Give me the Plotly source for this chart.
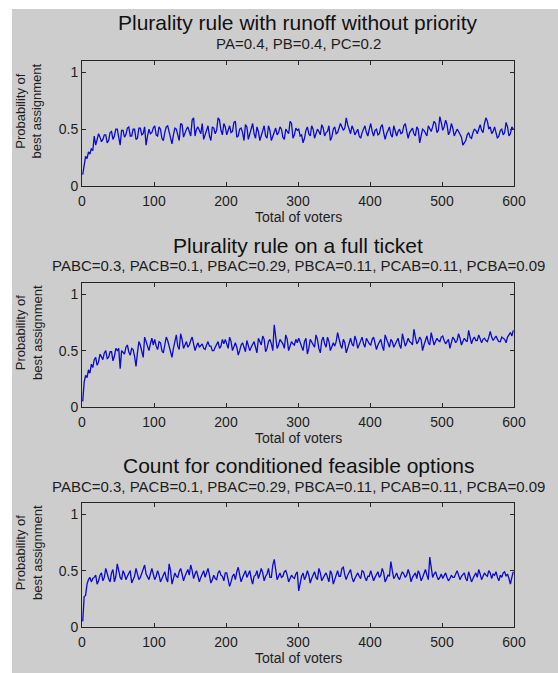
import plotly.graph_objects as go

# probability values sampled every 2 voters (1, 3, 5, ...)
runoff = [
    0.10, 0.20, 0.26, 0.24, 0.30, 0.28, 0.33, 0.31, 0.44, 0.36, 0.40, 0.46, 0.43, 0.39, 0.41, 0.45, 0.45, 0.38, 0.40, 0.47, 0.48, 0.41, 0.44, 0.50, 0.50,
    0.42, 0.36, 0.49, 0.49, 0.43, 0.45, 0.51, 0.52, 0.44, 0.44, 0.50, 0.50, 0.41, 0.42, 0.51, 0.51, 0.45, 0.46, 0.52, 0.36, 0.44, 0.50, 0.46, 0.47, 0.51,
    0.53, 0.45, 0.44, 0.52, 0.50, 0.42, 0.40, 0.47, 0.52, 0.53, 0.47, 0.44, 0.37, 0.45, 0.51, 0.50, 0.45, 0.40, 0.55, 0.54, 0.43, 0.47, 0.50, 0.52, 0.47,
    0.44, 0.58, 0.60, 0.44, 0.50, 0.52, 0.48, 0.46, 0.55, 0.41, 0.45, 0.49, 0.53, 0.44, 0.40, 0.52, 0.51, 0.46, 0.49, 0.60, 0.58, 0.49, 0.45, 0.55, 0.52,
    0.45, 0.50, 0.53, 0.47, 0.48, 0.56, 0.57, 0.43, 0.44, 0.50, 0.51, 0.47, 0.40, 0.54, 0.52, 0.41, 0.45, 0.49, 0.55, 0.46, 0.42, 0.52, 0.48, 0.40, 0.44,
    0.50, 0.53, 0.44, 0.42, 0.53, 0.49, 0.40, 0.44, 0.48, 0.51, 0.45, 0.47, 0.52, 0.50, 0.43, 0.41, 0.50, 0.48, 0.46, 0.57, 0.55, 0.42, 0.45, 0.51, 0.49,
    0.50, 0.44, 0.45, 0.38, 0.42, 0.49, 0.52, 0.46, 0.44, 0.53, 0.50, 0.42, 0.46, 0.50, 0.48, 0.45, 0.54, 0.51, 0.44, 0.47, 0.48, 0.53, 0.40, 0.43, 0.50,
    0.52, 0.46, 0.47, 0.51, 0.55, 0.52, 0.49, 0.51, 0.60, 0.54, 0.50, 0.46, 0.53, 0.50, 0.45, 0.48, 0.50, 0.44, 0.42, 0.47, 0.51, 0.53, 0.47, 0.44, 0.50,
    0.55, 0.48, 0.44, 0.49, 0.50, 0.45, 0.46, 0.52, 0.54, 0.47, 0.41, 0.46, 0.49, 0.52, 0.45, 0.43, 0.53, 0.49, 0.44, 0.48, 0.50, 0.46, 0.47, 0.53, 0.55,
    0.48, 0.42, 0.47, 0.49, 0.51, 0.46, 0.44, 0.52, 0.50, 0.38, 0.43, 0.50, 0.49, 0.46, 0.44, 0.53, 0.51, 0.48, 0.52, 0.57, 0.55, 0.47, 0.49, 0.61, 0.56,
    0.49, 0.52, 0.58, 0.54, 0.45, 0.48, 0.55, 0.51, 0.44, 0.47, 0.50, 0.48, 0.46, 0.43, 0.36, 0.38, 0.40, 0.45, 0.47, 0.43, 0.42, 0.47, 0.50, 0.49, 0.46,
    0.50, 0.54, 0.49, 0.47, 0.55, 0.60, 0.57, 0.50, 0.52, 0.46, 0.48, 0.52, 0.47, 0.42, 0.44, 0.49, 0.50, 0.45, 0.47, 0.56, 0.52, 0.44, 0.46, 0.52, 0.50,
]

full_ticket = [
    0.05, 0.22, 0.28, 0.26, 0.33, 0.30, 0.38, 0.35, 0.42, 0.44, 0.37, 0.40, 0.47, 0.45, 0.42, 0.48, 0.50, 0.43, 0.44, 0.49, 0.49, 0.41, 0.45, 0.52, 0.50,
    0.52, 0.34, 0.50, 0.48, 0.47, 0.53, 0.55, 0.49, 0.46, 0.52, 0.51, 0.45, 0.36, 0.48, 0.58, 0.55, 0.49, 0.44, 0.62, 0.58, 0.52, 0.50, 0.56, 0.61, 0.55,
    0.60, 0.54, 0.51, 0.58, 0.57, 0.50, 0.48, 0.55, 0.62, 0.59, 0.53, 0.50, 0.44, 0.52, 0.58, 0.64, 0.54, 0.51, 0.65, 0.60, 0.52, 0.56, 0.58, 0.53, 0.55,
    0.59, 0.62, 0.56, 0.50, 0.54, 0.57, 0.53, 0.55, 0.56, 0.52, 0.51, 0.55, 0.58, 0.54, 0.54, 0.50, 0.50, 0.53, 0.56, 0.58, 0.52, 0.54, 0.60, 0.56, 0.60,
    0.55, 0.52, 0.62, 0.58, 0.50, 0.54, 0.57, 0.53, 0.46, 0.50, 0.55, 0.57, 0.52, 0.49, 0.59, 0.55, 0.50, 0.53, 0.56, 0.58, 0.53, 0.48, 0.61, 0.57, 0.55,
    0.63, 0.60, 0.49, 0.52, 0.58, 0.60, 0.56, 0.50, 0.73, 0.62, 0.52, 0.55, 0.60, 0.58, 0.56, 0.52, 0.64, 0.60, 0.50, 0.54, 0.58, 0.56, 0.55, 0.60, 0.57,
    0.61, 0.57, 0.54, 0.50, 0.58, 0.61, 0.47, 0.52, 0.60, 0.58, 0.55, 0.53, 0.64, 0.60, 0.52, 0.48, 0.59, 0.62, 0.56, 0.53, 0.62, 0.58, 0.50, 0.54, 0.57,
    0.54, 0.58, 0.66, 0.60, 0.55, 0.52, 0.60, 0.57, 0.48, 0.52, 0.58, 0.61, 0.56, 0.54, 0.63, 0.59, 0.52, 0.55, 0.59, 0.62, 0.56, 0.53, 0.61, 0.58, 0.56,
    0.55, 0.60, 0.62, 0.57, 0.51, 0.55, 0.57, 0.60, 0.54, 0.50, 0.64, 0.60, 0.56, 0.53, 0.60, 0.58, 0.53, 0.56, 0.58, 0.61, 0.55, 0.52, 0.65, 0.60, 0.54,
    0.57, 0.61, 0.58, 0.57, 0.55, 0.69, 0.62, 0.56, 0.58, 0.62, 0.60, 0.50, 0.55, 0.60, 0.63, 0.57, 0.55, 0.66, 0.61, 0.55, 0.58, 0.61, 0.59, 0.58, 0.62,
    0.63, 0.59, 0.56, 0.58, 0.60, 0.52, 0.56, 0.62, 0.60, 0.57, 0.59, 0.65, 0.61, 0.55, 0.58, 0.61, 0.59, 0.58, 0.68, 0.62, 0.56, 0.60, 0.62, 0.59, 0.59,
    0.64, 0.60, 0.57, 0.60, 0.61, 0.59, 0.58, 0.62, 0.67, 0.62, 0.59, 0.61, 0.63, 0.60, 0.58, 0.58, 0.62, 0.61, 0.60, 0.57, 0.62, 0.64, 0.66, 0.63, 0.68,
]

conditioned = [
    0.05, 0.27, 0.28, 0.38, 0.42, 0.44, 0.40, 0.43, 0.44, 0.46, 0.38, 0.41, 0.46, 0.48, 0.41, 0.44, 0.52, 0.47, 0.43, 0.40, 0.48, 0.51, 0.40, 0.45, 0.56,
    0.50, 0.44, 0.42, 0.50, 0.47, 0.42, 0.45, 0.47, 0.50, 0.39, 0.43, 0.45, 0.52, 0.48, 0.42, 0.44, 0.48, 0.50, 0.55, 0.47, 0.44, 0.42, 0.47, 0.52, 0.47,
    0.42, 0.45, 0.50, 0.46, 0.40, 0.43, 0.46, 0.49, 0.43, 0.40, 0.56, 0.50, 0.38, 0.44, 0.48, 0.45, 0.44, 0.49, 0.52, 0.47, 0.41, 0.45, 0.49, 0.51, 0.46,
    0.55, 0.50, 0.43, 0.47, 0.50, 0.45, 0.40, 0.44, 0.47, 0.50, 0.44, 0.48, 0.52, 0.46, 0.39, 0.42, 0.46, 0.43, 0.42, 0.48, 0.50, 0.46, 0.45, 0.41, 0.48,
    0.48, 0.42, 0.36, 0.40, 0.45, 0.47, 0.42, 0.49, 0.53, 0.46, 0.40, 0.44, 0.47, 0.50, 0.44, 0.48, 0.50, 0.43, 0.38, 0.45, 0.46, 0.50, 0.43, 0.47, 0.52,
    0.48, 0.41, 0.45, 0.47, 0.52, 0.44, 0.44, 0.55, 0.60, 0.52, 0.42, 0.45, 0.48, 0.44, 0.45, 0.49, 0.50, 0.46, 0.40, 0.43, 0.46, 0.44, 0.43, 0.47, 0.49,
    0.32, 0.40, 0.45, 0.48, 0.42, 0.45, 0.50, 0.46, 0.39, 0.43, 0.47, 0.49, 0.44, 0.42, 0.52, 0.48, 0.41, 0.44, 0.46, 0.48, 0.43, 0.40, 0.50, 0.47, 0.38,
    0.42, 0.47, 0.50, 0.45, 0.45, 0.52, 0.53, 0.46, 0.42, 0.46, 0.48, 0.51, 0.44, 0.40, 0.43, 0.46, 0.48, 0.45, 0.43, 0.50, 0.49, 0.44, 0.41, 0.45, 0.45,
    0.50, 0.46, 0.41, 0.44, 0.47, 0.49, 0.44, 0.46, 0.52, 0.48, 0.40, 0.43, 0.46, 0.45, 0.58, 0.50, 0.43, 0.45, 0.48, 0.44, 0.42, 0.46, 0.49, 0.47, 0.44,
    0.46, 0.51, 0.47, 0.40, 0.44, 0.46, 0.48, 0.43, 0.50, 0.47, 0.41, 0.44, 0.47, 0.51, 0.46, 0.42, 0.62, 0.50, 0.44, 0.47, 0.49, 0.45, 0.42, 0.44, 0.47,
    0.43, 0.45, 0.48, 0.44, 0.41, 0.43, 0.46, 0.44, 0.44, 0.47, 0.50, 0.46, 0.42, 0.45, 0.47, 0.48, 0.43, 0.41, 0.49, 0.45, 0.40, 0.43, 0.46, 0.48, 0.44,
    0.51, 0.47, 0.42, 0.45, 0.48, 0.46, 0.45, 0.50, 0.48, 0.43, 0.47, 0.46, 0.49, 0.44, 0.41, 0.46, 0.44, 0.48, 0.49, 0.45, 0.47, 0.43, 0.38, 0.44, 0.49,
]

titles = [
    "Plurality rule with runoff without priority",
    "Plurality rule on a full ticket",
    "Count for conditioned feasible options",
]
subtitles = [
    "PA=0.4, PB=0.4, PC=0.2",
    "PABC=0.3, PACB=0.1, PBAC=0.29, PBCA=0.11, PCAB=0.11, PCBA=0.09",
    "PABC=0.3, PACB=0.1, PBAC=0.29, PBCA=0.11, PCAB=0.11, PCBA=0.09",
]
x_title = "Total of voters"
y_title = "Probability of<br>best assignment"
x_ticks = [0, 100, 200, 300, 400, 500, 600]
y_ticks = [0, 0.5, 1]
y_tick_text = ["0", "0.5", "1"]

W, H = 558, 673
FONT = "Liberation Sans, Arial, sans-serif"
series = [runoff, full_ticket, conditioned]

# pixel layout of each axes box (top, bottom)
boxes = [(61, 186), (283, 407), (503, 627)]
x_left, x_right = 82, 514


def py(p):
    return 1 - p / H


fig = go.Figure()
annotations = []
for i, (vals, (top, bot)) in enumerate(zip(series, boxes)):
    n = i + 1
    xa = "x" if n == 1 else f"x{n}"
    ya = "y" if n == 1 else f"y{n}"
    voters = list(range(1, 2 * len(vals), 2))
    fig.add_trace(go.Scatter(
        x=voters, y=vals, mode="lines", xaxis=xa, yaxis=ya,
        line=dict(color="#0a0ad2", width=1.3), showlegend=False,
        hoverinfo="skip",
    ))
    axis_common = dict(
        showgrid=False, zeroline=False, showline=True, linecolor="#262626",
        linewidth=1, mirror="ticks", ticks="inside", ticklen=4,
        automargin=False,
        tickcolor="#262626", tickfont=dict(family=FONT, size=14, color="#1e1e1e"),
    )
    fig.layout[f"xaxis{'' if n == 1 else n}"] = dict(
        axis_common, domain=[x_left / W, x_right / W], anchor=ya,
        range=[0, 600], tickvals=x_ticks, ticklabelstandoff=2,
    )
    fig.layout[f"yaxis{'' if n == 1 else n}"] = dict(
        axis_common, domain=[py(bot), py(top)], anchor=xa,
        range=[0, 1.1], tickvals=y_ticks, ticktext=y_tick_text,
    )
    annotations += [
        dict(text=titles[i], x=(x_left + x_right) / 2 / W, y=py(top - 38),
             xref="paper", yref="paper", showarrow=False, yanchor="middle",
             font=dict(family=FONT, size=21, color="#111")),
        dict(text=subtitles[i], x=(x_left + x_right) / 2 / W, y=py(top - 17),
             xref="paper", yref="paper", showarrow=False, yanchor="middle",
             font=dict(family=FONT, size=15, color="#1e1e1e")),
        dict(text=x_title, x=(x_left + x_right) / 2 / W, y=py(bot + 31),
             xref="paper", yref="paper", showarrow=False, yanchor="middle",
             font=dict(family=FONT, size=14, color="#1e1e1e")),
        dict(text=y_title, x=29 / W, y=py((top + bot) / 2 - 12),
             xref="paper", yref="paper", showarrow=False, textangle=-90,
             xanchor="center", yanchor="middle",
             font=dict(family=FONT, size=13, color="#1e1e1e")),
    ]

fig.update_layout(
    width=W, height=H, margin=dict(l=0, r=0, t=0, b=0, pad=0),
    autosize=False,
    paper_bgcolor="white", plot_bgcolor="white",
    annotations=annotations,
    shapes=[dict(type="rect", xref="paper", yref="paper",
                 x0=12 / W, x1=1, y0=0, y1=py(9),
                 fillcolor="#cdcdcd", line=dict(width=0), layer="below")],
)

post = """
var de = document.documentElement, bd = document.body;
de.style.margin = '0'; de.style.padding = '0'; de.style.overflow = 'hidden';
bd.style.margin = '0'; bd.style.padding = '0'; bd.style.overflow = 'hidden';
"""
fig.write_html("out.html", post_script=post, config={"displayModeBar": False})
